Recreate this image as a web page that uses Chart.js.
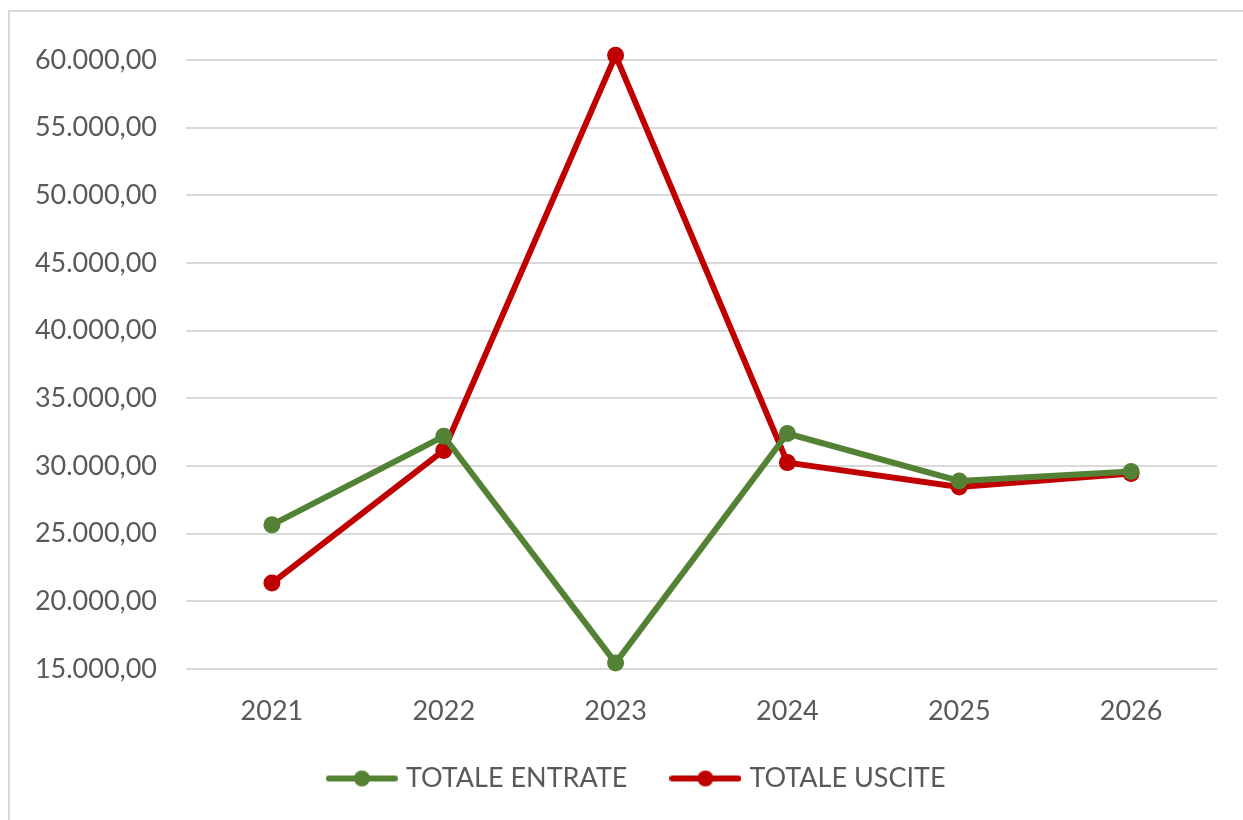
<!DOCTYPE html>
<html>
<head>
<meta charset="utf-8">
<script src="https://cdn.jsdelivr.net/npm/chart.js@4.4.1/dist/chart.umd.min.js"></script>
<style>
  body { margin: 0; background: #fff; overflow: hidden; }
  #box {
    position: absolute; left: 8px; top: 10px;
    width: 1235px; height: 810px;
    border-left: 2px solid #d9d9d9; border-top: 2px solid #d9d9d9;
    box-sizing: border-box;
  }
</style>
</head>
<body>
<div id="box"><canvas id="myChart" width="1233" height="808"></canvas></div>
<script>
var anni = ['2021', '2022', '2023', '2024', '2025', '2026'];
var totaleEntrate = [25650, 32200, 15450, 32400, 28900, 29600];
var totaleUscite = [21350, 31150, 60350, 30250, 28450, 29450];
var yMin = 15000;
var yMax = 60000;
var yStep = 5000;

var verde = '#548235';
var rosso = '#C00000';

// formato italiano 60.000,00
function formatta(v) {
    var s = Math.round(v).toString();
    s = s.replace(/\B(?=(\d{3})+(?!\d))/g, '.');
    return s + ',00';
}

// simbolo della legenda: linea con pallino
function simbolo(colore) {
    var c = document.createElement('canvas');
    c.width = 72;
    c.height = 18;
    var g = c.getContext('2d');
    g.strokeStyle = colore;
    g.lineWidth = 6;
    g.lineCap = 'round';
    g.beginPath();
    g.moveTo(3, 9);
    g.lineTo(69, 9);
    g.stroke();
    g.fillStyle = colore;
    g.beginPath();
    g.arc(36, 9, 8, 0, Math.PI * 2);
    g.fill();
    return c;
}
var simboli = [simbolo(verde), simbolo(rosso)];

// sposta un po' la legenda (a destra e in alto)
var spostaLegenda = {
    id: 'spostaLegenda',
    afterLayout: function (chart) {
        var l = chart.legend;
        if (!l) return;
        l.left += 50;
        l.top -= 18;
        l.bottom -= 18;
    }
};

const ctx = document.getElementById('myChart').getContext('2d');
const myChart = new Chart(ctx, {
    type: 'line',
    data: {
        labels: anni,
        datasets: [{
            label: 'TOTALE ENTRATE',
            data: totaleEntrate,
            borderColor: verde,
            backgroundColor: verde,
            borderWidth: 6,
            pointRadius: 8.5,
            pointHoverRadius: 8.5,
            pointBorderWidth: 0,
            tension: 0,
            clip: false
        }, {
            label: 'TOTALE USCITE',
            data: totaleUscite,
            borderColor: rosso,
            backgroundColor: rosso,
            borderWidth: 6,
            pointRadius: 8.5,
            pointHoverRadius: 8.5,
            pointBorderWidth: 0,
            tension: 0,
            clip: false
        }]
    },
    options: {
        responsive: false,
        animation: false,
        layout: {
            padding: { top: 48, right: 26, bottom: 0, left: 0 }
        },
        scales: {
            x: {
                offset: true,
                grid: { display: false, drawTicks: false },
                border: { display: false },
                ticks: {
                    color: '#595959',
                    padding: 26,
                    font: { family: 'Lato', size: 27 }
                },
                afterFit: function (scale) { scale.height = 66.5; }
            },
            y: {
                min: yMin,
                max: yMax,
                grid: { color: '#d9d9d9', lineWidth: 2, drawTicks: false },
                border: { display: false },
                ticks: {
                    stepSize: yStep,
                    color: '#595959',
                    padding: 29,
                    font: { family: 'Lato', size: 27 },
                    callback: function (v) { return formatta(v); }
                },
                afterFit: function (scale) { scale.width = 176; }
            }
        },
        plugins: {
            legend: {
                position: 'bottom',
                labels: {
                    usePointStyle: true,
                    pointStyleWidth: 61,
                    padding: 47.5,
                    color: '#595959',
                    font: { family: 'Lato', size: 27 },
                    generateLabels: function (chart) {
                        var items = Chart.defaults.plugins.legend.labels.generateLabels(chart);
                        items.forEach(function (it, i) { it.pointStyle = simboli[i]; });
                        return items;
                    }
                }
            },
            tooltip: { enabled: false }
        }
    },
    plugins: [spostaLegenda]
});
</script>
</body>
</html>
